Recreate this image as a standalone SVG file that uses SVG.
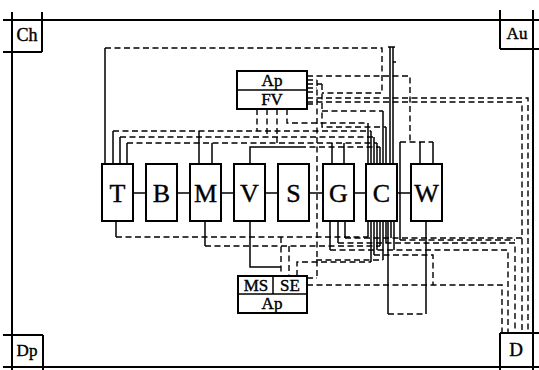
<svg xmlns="http://www.w3.org/2000/svg" width="539" height="370" viewBox="0 0 539 370">
<style>
.frame{stroke:#000;stroke-width:2;fill:none}
.box{fill:#fff;stroke:#000;stroke-width:2}
.s{stroke:#000;stroke-width:1.5;fill:none}
.d{stroke:#000;stroke-width:1.4;fill:none;stroke-dasharray:6 3.5}
.lbl{font-family:"Liberation Serif","Times New Roman",serif;fill:#000;stroke:#000;stroke-width:0.4;text-anchor:middle}
.big{font-size:26px}
.mid{font-size:17px}
</style>
<rect width="539" height="370" fill="#fff"/>
<g id="frame">
<path class="frame" d="M3,20H539 M12,12V370 M533,10V370 M3,367H539 M3,52H42 M42,12V52 M500,10V49 M500,49H539 M3,335H43 M43,335V370 M500,333H539 M500,333V370"/>
</g>
<g id="connectors">
<path class="s" d="M133,193H146 M177,193H190 M221,193H234 M265,193H278 M309,193H323 M354,193H366 M397,193H411"/>
<path class="s" d="M105,164V48 M113,164V131 M120,164V137 M127,164V143 M199,164V131 M212,164V143 M250,164V147H300 M332,164V143 M344,164V143"/>
<path class="s" d="M368,164V123 M371,164V131 M374,164V137 M377,164V143 M380,164V147 M383,164V111 M386,164V127 M390,164V47 M393,164V47 M388,47H395 M393,62h3"/>
<path class="s" d="M420,164V142 M433,164V142 M400,142V240"/>
<path class="s" d="M116,221V237 M205,221V246 M250,221V267H281 M330,221V250 M338,221V243 M345,221V238"/>
<path class="s" d="M368,221V237 M371,221V262 M374,221V255 M377,221V250 M380,221V246 M383,221V260 M386,221V243 M388,221V314 M391,221V238 M394,221V250 M426,221V314"/>
<path class="d" d="M105,48H382V93H322 M113,131H371 M120,137H374 M127,143H377 M300,147H380 M257,109V131 M267,109V137 M277,109V143 M287,109V123H368"/>
<path class="d" d="M307,76H410V142 M400,142H433 M307,80H317 M307,84H322 M307,88H317 M307,92H317 M307,104H317 M317,80V278 M322,84V127H386 M322,111H383 M307,98H528V333 M307,102H522V333"/>
<path class="d" d="M116,237H368 M205,246H380 M281,237V276 M289,246V276 M297,276V262H371 M316,260H383 M307,278H317 M307,285H502V333 M374,255H433V285 M388,314H426"/>
<path class="d" d="M345,238H522 M338,243H515V333 M330,250H508V333 M400,240H515"/>
</g>
<g id="node-Ch"><text class="lbl" style="font-size:18px" x="27" y="41">Ch</text></g>
<g id="node-Au"><text class="lbl mid" x="517" y="39">Au</text></g>
<g id="node-Dp"><text class="lbl mid" x="27" y="356">Dp</text></g>
<g id="node-D"><text class="lbl" style="font-size:19px" x="516" y="356">D</text></g>
<g id="node-ApFV"><rect class="box" x="237" y="71" width="70" height="38"/><path class="s" d="M237,90H307"/><text class="lbl mid" x="272" y="86">Ap</text><text class="lbl mid" x="272" y="105">FV</text></g>
<g id="node-MSSE"><rect class="box" x="238" y="276" width="69" height="37"/><path class="s" d="M238,294H307 M273,276V294"/><text class="lbl mid" x="256" y="291">MS</text><text class="lbl mid" x="290" y="291">SE</text><text class="lbl mid" x="272" y="309">Ap</text></g>
<g id="node-T"><rect class="box" x="102" y="164" width="31" height="57"/><text class="lbl big" x="117.5" y="202">T</text></g>
<g id="node-B"><rect class="box" x="146" y="164" width="31" height="57"/><text class="lbl big" x="161.5" y="202">B</text></g>
<g id="node-M"><rect class="box" x="190" y="164" width="31" height="57"/><text class="lbl big" x="205.5" y="202">M</text></g>
<g id="node-V"><rect class="box" x="234" y="164" width="31" height="57"/><text class="lbl big" x="249.5" y="202">V</text></g>
<g id="node-S"><rect class="box" x="278" y="164" width="31" height="57"/><text class="lbl big" x="293.5" y="202">S</text></g>
<g id="node-G"><rect class="box" x="323" y="164" width="31" height="57"/><text class="lbl big" x="338.5" y="202">G</text></g>
<g id="node-C"><rect class="box" x="366" y="164" width="31" height="57"/><text class="lbl big" x="381.5" y="202">C</text></g>
<g id="node-W"><rect class="box" x="411" y="164" width="31" height="57"/><text class="lbl big" x="426.5" y="202">W</text></g>
</svg>
